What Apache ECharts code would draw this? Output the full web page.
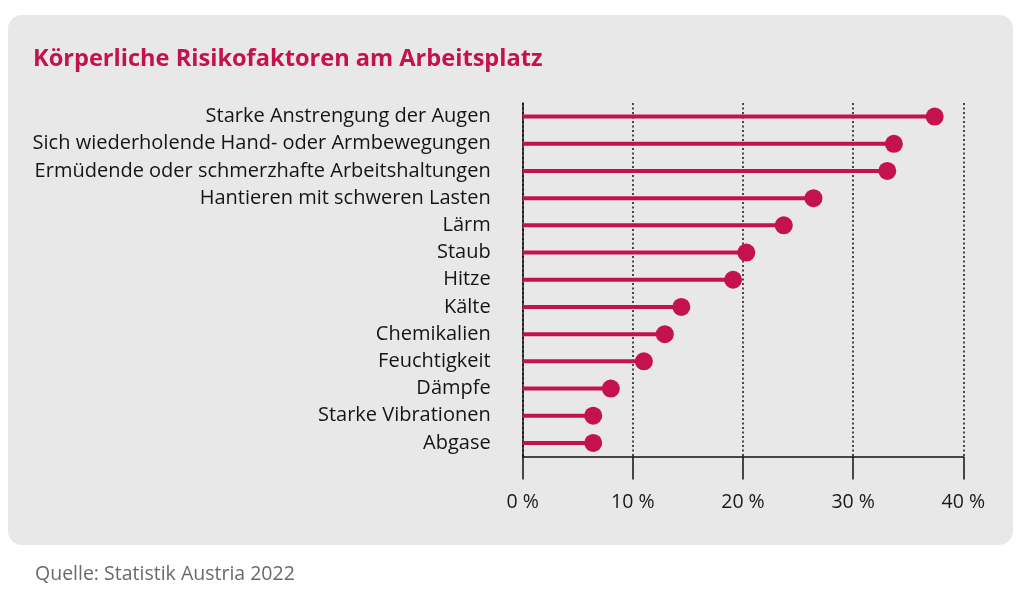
<!DOCTYPE html>
<html>
<head>
<meta charset="utf-8">
<script src="https://cdn.jsdelivr.net/npm/echarts@6/dist/echarts.min.js"></script>
<style>
html,body{margin:0;padding:0;background:#fff;}
#chart{width:1024px;height:595px;}
</style>
</head>
<body>
<div id="chart"></div>
<script>
const titleText = 'Körperliche Risikofaktoren am Arbeitsplatz';
const sourceText = 'Quelle: Statistik Austria 2022';
const categories = [
  'Starke Anstrengung der Augen',
  'Sich wiederholende Hand- oder Armbewegungen',
  'Ermüdende oder schmerzhafte Arbeitshaltungen',
  'Hantieren mit schweren Lasten',
  'Lärm',
  'Staub',
  'Hitze',
  'Kälte',
  'Chemikalien',
  'Feuchtigkeit',
  'Dämpfe',
  'Starke Vibrationen',
  'Abgase'
];
const values = [37.4, 33.7, 33.1, 26.4, 23.7, 20.3, 19.1, 14.4, 12.9, 11.0, 8.0, 6.4, 6.4];
const xTicks = [0, 10, 20, 30, 40];

const RED = '#c4124e';
const FONT = '"Open Sans", sans-serif';

const chart = echarts.init(document.getElementById('chart'));
chart.setOption({
  animation: false,
  backgroundColor: '#ffffff',
  graphic: [
    {type: 'rect', z: -10, silent: true,
     shape: {x: 8, y: 15, width: 1005, height: 530, r: 14},
     style: {fill: '#e8e8e8'}},
    {type: 'text', left: 35, top: 564, silent: true,
     style: {text: sourceText, fill: '#6a6a6a', font: '19.5px ' + FONT}}
  ],
  title: {
    text: titleText, left: 33, top: 47, padding: 0,
    textStyle: {color: RED, fontFamily: FONT, fontWeight: 'bold', fontSize: 23.6}
  },
  grid: {left: 522.7, right: 1024 - 963.3, top: 103, bottom: 595 - 456.5, containLabel: false},
  xAxis: {
    type: 'value', min: xTicks[0], max: xTicks[xTicks.length - 1], interval: 10,
    axisLine: {show: true, lineStyle: {color: '#111', width: 1.5}},
    axisTick: {show: true, length: 23, lineStyle: {color: '#111', width: 1.5}},
    axisLabel: {margin: 36, color: '#1a1a1a', fontFamily: FONT, fontSize: 19.5,
      formatter: v => v + ' %'},
    splitLine: {show: true, lineStyle: {color: '#111', width: 1.5, type: [2, 2.5]}}
  },
  yAxis: {
    type: 'category', data: categories, inverse: true,
    axisLine: {show: true, lineStyle: {color: '#111', width: 1.5}},
    axisTick: {show: false},
    axisLabel: {margin: 32, color: '#151515', fontFamily: FONT, fontSize: 20}
  },
  series: [
    {type: 'bar', data: values, barWidth: 4, itemStyle: {color: RED}, z: 2},
    {type: 'scatter', data: values, symbol: 'circle', symbolSize: 18,
     itemStyle: {color: RED, opacity: 1}, z: 3}
  ]
});
</script>
</body>
</html>
